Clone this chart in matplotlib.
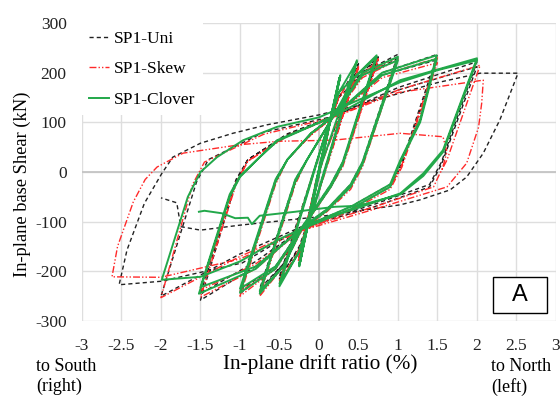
import matplotlib
matplotlib.use('Agg')
import matplotlib.pyplot as plt
from matplotlib.patches import Rectangle

plt.rcParams['font.family'] = ['Liberation Serif', 'DejaVu Serif']

# ---- data (drift ratio %, base shear kN) -------------------------------------
uni_pts = [
    (0, 0),
    (0.25, 180), (0.02, 10), (-0.25, -170), (-0.02, -10),
    (0.25, 185), (0.02, 5), (-0.25, -175), (-0.02, -5),
    (0.5, 215), (0.1, 20), (-0.05, -60), (-0.25, -150), (-0.5, -215),
    (-0.1, -20), (0.05, 60), (0.25, 150), (0.5, 218),
    (0.1, 15), (-0.05, -65), (-0.25, -155), (-0.5, -210),
    (-0.1, -15), (0.05, 60), (0.25, 150),
    (0.75, 230), (0.3, 20), (0.15, -25), (-0.22, -112), (-0.45, -185), (-0.75, -240),
    (-0.3, -20), (-0.15, 25), (0.18, 112), (0.45, 185), (0.75, 232),
    (0.3, 15), (0.15, -30), (-0.22, -115), (-0.45, -185), (-0.75, -235),
    (-0.3, -15), (-0.15, 25), (0.18, 112), (0.55, 200),
    (1.0, 237), (0.55, 20), (0.4, -25), (0.1, -75), (-0.22, -112), (-0.55, -190), (-1.0, -245),
    (-0.55, -20), (-0.4, 25), (-0.1, 78), (0.18, 112), (0.55, 195), (1.0, 228),
    (0.55, 15), (0.4, -30), (0.1, -78), (-0.22, -115), (-0.55, -190), (-1.0, -238),
    (-0.55, -15), (-0.4, 25), (-0.1, 78), (0.18, 112), (0.8, 200),
    (1.5, 237), (1.05, 20), (0.9, -25), (0.4, -70), (-0.22, -112), (-0.8, -190), (-1.5, -258),
    (-1.05, -20), (-0.9, 25), (-0.4, 75), (0.18, 112), (0.8, 195), (1.5, 226),
    (1.05, 15), (0.9, -30), (0.4, -75), (-0.22, -115), (-0.8, -180), (-1.5, -245),
    (-1.05, -15), (-0.9, 25), (-0.4, 77), (0.18, 112), (1.0, 170),
    (2.0, 222), (1.55, 20), (1.4, -25), (0.7, -65), (-0.22, -110), (-1.0, -165), (-2.0, -250),
    (-1.55, -20), (-1.4, 25), (-0.7, 80), (0.18, 112), (1.0, 165), (2.0, 212),
    (1.55, 15), (1.4, -30), (0.7, -70), (-0.22, -112), (-0.97, -183), (-2.0, -220), (-2.53, -227),
    (-2.43, -157), (-2.21, -63), (-1.99, -3), (-1.85, 30), (-1.5, 58), (-1.09, 78),
    (-0.66, 95), (0, 115), (0.5, 135), (1.03, 159), (1.5, 180), (2.04, 199), (2.52, 199),
    (2.29, 105), (2.08, 38), (1.87, -10), (1.66, -36), (1.28, -56), (1.03, -66),
    (0, -90), (-1.0, -107), (-1.5, -117), (-1.75, -110), (-1.8, -62), (-2.0, -52),
]

skew_pts = [
    (0, 0),
    (0.24, 175), (0.01, 5), (-0.25, -172), (-0.01, -5),
    (0.25, 182), (0.02, 5), (-0.26, -178), (-0.02, -5),
    (0.5, 210), (0.1, 15), (-0.05, -60), (-0.25, -155), (-0.5, -225),
    (-0.1, -20), (0.05, 60), (0.25, 150), (0.5, 212),
    (0.1, 10), (-0.05, -65), (-0.25, -160), (-0.5, -218),
    (-0.1, -15), (0.05, 60), (0.25, 150),
    (0.75, 225), (0.3, 15), (0.15, -30), (-0.22, -115), (-0.45, -190), (-0.75, -250),
    (-0.3, -25), (-0.15, 25), (0.18, 110), (0.45, 180), (0.75, 228),
    (0.3, 10), (0.15, -30), (-0.22, -118), (-0.45, -190), (-0.75, -242),
    (-0.3, -20), (-0.15, 25), (0.18, 110), (0.55, 195),
    (1.0, 232), (0.55, 15), (0.4, -30), (0.1, -78), (-0.22, -115), (-0.55, -195), (-1.0, -250),
    (-0.55, -25), (-0.4, 25), (-0.1, 75), (0.18, 110), (0.55, 190), (1.0, 226),
    (0.55, 10), (0.4, -35), (0.1, -80), (-0.22, -118), (-0.55, -195), (-1.0, -240),
    (-0.55, -20), (-0.4, 25), (-0.1, 75), (0.18, 110), (0.8, 195),
    (1.5, 230), (1.05, 15), (0.9, -30), (0.4, -75), (-0.22, -115), (-0.8, -195), (-1.5, -252),
    (-1.05, -25), (-0.9, 22), (-0.4, 72), (0.18, 110), (0.8, 190), (1.5, 220),
    (1.05, 10), (0.9, -35), (0.4, -78), (-0.22, -118), (-0.8, -185), (-1.5, -238),
    (-1.05, -20), (-0.9, 22), (-0.4, 74), (0.18, 110), (1.0, 165),
    (2.04, 215), (1.62, 24), (1.53, -3), (1.45, -30), (0.7, -70), (-0.22, -115), (-1.0, -170), (-2.0, -253),
    (-1.6, -25), (-1.45, 20), (-0.7, 76), (0.18, 110), (1.0, 160), (2.08, 185),
    (2.06, 139), (2.02, 90), (1.87, 18), (1.62, -30), (0.7, -75), (-0.22, -118),
    (-1.0, -175), (-2.0, -212), (-2.62, -211),
    (-2.55, -150), (-2.35, -60), (-2.2, -15), (-2.05, 10), (-1.72, 38), (-1.0, 55),
    (-0.5, 62), (0.18, 64), (1.03, 78), (1.57, 71), (1.62, 40), (1.55, 0),
]

clover_pts = [
    (0, 0),
    (0.27, 195), (-0.02, -10), (-0.25, -190), (0.03, 20),
    (0.26, 190), (-0.03, -15), (-0.24, -182), (0.02, 15),
    (0.27, 192), (-0.02, -10), (-0.25, -185), (0.02, 10),
    (0.48, 225), (0.1, 20), (-0.05, -60), (-0.25, -160), (-0.5, -230),
    (-0.1, -20), (0.05, 60), (0.25, 160), (0.48, 222),
    (0.1, 15), (-0.05, -65), (-0.25, -160), (-0.5, -225),
    (-0.1, -15), (0.05, 60), (0.25, 160),
    (0.73, 235), (0.3, 20), (0.15, -25), (-0.22, -112), (-0.45, -190), (-0.75, -245),
    (-0.3, -20), (-0.15, 25), (0.18, 112), (0.45, 190), (0.73, 232),
    (0.3, 15), (0.15, -30), (-0.22, -115), (-0.45, -190), (-0.75, -240),
    (-0.3, -15), (-0.15, 25), (0.18, 112), (0.55, 200),
    (1.0, 232), (0.55, 20), (0.4, -25), (0.1, -75), (-0.22, -112), (-0.55, -195), (-1.0, -243),
    (-0.55, -20), (-0.4, 25), (-0.1, 78), (0.18, 112), (0.55, 195), (1.0, 225),
    (0.55, 15), (0.4, -30), (0.1, -78), (-0.22, -115), (-0.55, -190), (-1.0, -235),
    (-0.55, -15), (-0.4, 25), (-0.1, 78), (0.18, 112), (0.8, 200),
    (1.49, 235), (1.28, 105), (1.03, 24), (0.9, -25), (0.4, -70), (-0.22, -112), (-0.8, -195), (-1.52, -245),
    (-1.13, -50), (-1.0, -10), (-0.75, 30), (-0.53, 62), (0.18, 112), (0.8, 195), (1.49, 228),
    (1.28, 100), (1.03, 20), (0.9, -30), (0.4, -75), (-0.22, -115), (-0.8, -190), (-1.5, -232),
    (-1.13, -45), (-1.0, -8), (-0.75, 30), (-0.53, 64), (0.18, 112), (1.03, 185),
    (2.0, 229), (1.57, 44), (1.32, -3), (1.03, -43), (0.5, -72), (0, -98), (-0.5, -135),
    (-1.0, -180), (-1.5, -211), (-1.99, -217),
    (-1.66, -50), (-1.5, 0), (-1.29, 30), (-0.96, 64), (-0.53, 91), (0, 110), (0.5, 145),
    (1.03, 181), (1.5, 205), (2.0, 225),
    (1.57, 40), (1.32, -8), (1.03, -45), (0.5, -68), (0.2, -70), (-0.3, -80), (-0.75, -88),
    (-0.85, -105), (-0.9, -92), (-1.06, -93), (-1.23, -83), (-1.45, -78), (-1.52, -80),
]

x_ticks = [-3, -2.5, -2, -1.5, -1, -0.5, 0, 0.5, 1, 1.5, 2, 2.5, 3]
y_ticks = [-300, -200, -100, 0, 100, 200, 300]

# ---- figure ------------------------------------------------------------------
fig = plt.figure(figsize=(5.6, 3.97), dpi=100)
ax = fig.add_axes([0.1464, 0.1914, 0.8464, 0.7506])

ux, uy = zip(*uni_pts)
sx, sy = zip(*skew_pts)
cx, cy = zip(*clover_pts)
ax.plot(ux, uy, color='#222222', lw=1.0, dashes=(3.0, 2.2), label='SP1-Uni', zorder=3)
ax.plot(sx, sy, color='#ff2a2a', lw=1.0, dashes=(5, 1.5, 1, 1.5, 1, 1.5),
        label='SP1-Skew', zorder=4)
ax.plot(cx, cy, color='#22a84a', lw=1.4, label='SP1-Clover', zorder=5)

ax.set_xlim(-3, 3)
ax.set_ylim(-300, 300)
ax.set_xticks(x_ticks)
ax.set_yticks(y_ticks)
ax.set_xticklabels(['%g' % t for t in x_ticks])
ax.set_yticklabels(['%g' % t for t in y_ticks])
ax.tick_params(length=0, labelsize=12.5, colors='#222222')
ax.tick_params(axis='y', pad=11)
ax.tick_params(axis='x', pad=12)
ax.grid(True, color='#dedede', lw=1.0, zorder=0)
ax.set_axisbelow(True)
for s in ax.spines.values():
    s.set_visible(False)
ax.axhline(0, color='#c4c4c4', lw=1.3, zorder=1)
ax.axvline(0, color='#c4c4c4', lw=1.3, zorder=1)

# y label placed by hand (its right edge ~ 32 px from the figure's left)
fig.text(22 / 560, 1 - 184 / 397, 'In-plane base Shear (kN)', fontsize=13.3,
         rotation=90, ha='center', va='center')
fig.text(0.571, 1 - 364 / 397, 'In-plane drift ratio (%)', fontsize=15.3,
         ha='center', va='center')
fig.text(36 / 560, 1 - 358 / 397, 'to South\n(right)', fontsize=13,
         ha='left', va='top', linespacing=1.2)
fig.text(491 / 560, 1 - 358 / 397, 'to North\n(left)', fontsize=13,
         ha='left', va='top', linespacing=1.2)

leg = ax.legend(loc='upper left', bbox_to_anchor=(-0.01, 1.012), fontsize=12.5,
                frameon=True, fancybox=False, edgecolor='none', facecolor='white',
                framealpha=1, handlelength=1.2, handletextpad=0.25,
                labelspacing=0.82, borderpad=0.45, borderaxespad=0.2)
leg.set_zorder(6)

ax.add_patch(Rectangle((0.867, 0.027), 0.114, 0.121, transform=ax.transAxes,
                       facecolor='white', edgecolor='black', lw=1.0, zorder=7))
ax.text(0.924, 0.0875, 'A', transform=ax.transAxes, fontsize=17,
        family='Liberation Sans', ha='center', va='center', zorder=8)

fig.savefig('out.png', dpi=100)
